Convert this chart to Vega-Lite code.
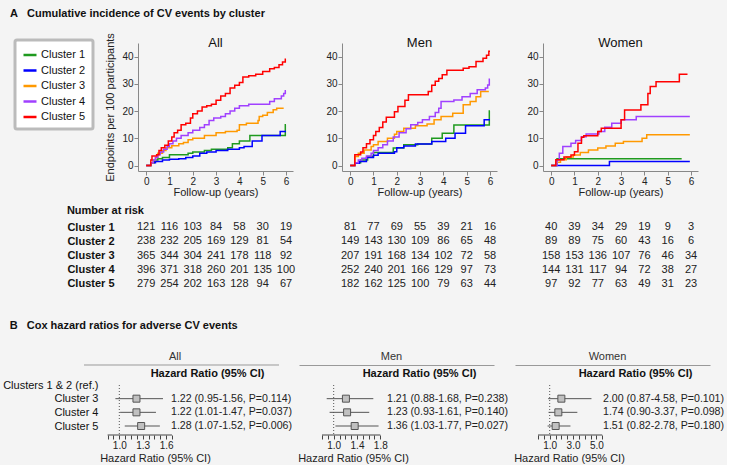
{
"$schema": "https://vega.github.io/schema/vega-lite/v6.json",
"background": "#f4f4f4",
"padding": {"left": 2, "top": 7, "right": 2, "bottom": 2},
"config": {
  "font": "Liberation Sans",
  "view": {"stroke": null},
  "axis": {"grid": false, "domainColor": "#888", "tickColor": "#888", "tickSize": 4, "labelFontSize": 10, "labelColor": "#222", "titleFontSize": 11, "titleFontWeight": "normal", "titleColor": "#222", "labelPadding": 1},
  "title": {"color": "#111"}
},
"datasets": {
"km": [
{"p":"All","c":"Cluster 1","t":0,"v":0},{"p":"All","c":"Cluster 1","t":0.2,"v":1},{"p":"All","c":"Cluster 1","t":0.35,"v":2},{"p":"All","c":"Cluster 1","t":0.5,"v":2.5},{"p":"All","c":"Cluster 1","t":0.7,"v":3},{"p":"All","c":"Cluster 1","t":1,"v":4},{"p":"All","c":"Cluster 1","t":1.8,"v":4.5},{"p":"All","c":"Cluster 1","t":2,"v":5},{"p":"All","c":"Cluster 1","t":2.5,"v":5.5},{"p":"All","c":"Cluster 1","t":2.8,"v":6},{"p":"All","c":"Cluster 1","t":3.5,"v":6.5},{"p":"All","c":"Cluster 1","t":3.7,"v":8},{"p":"All","c":"Cluster 1","t":4,"v":9},{"p":"All","c":"Cluster 1","t":4.45,"v":11},{"p":"All","c":"Cluster 1","t":5.97,"v":15},{"p":"All","c":"Cluster 1","t":6,"v":15},
{"p":"All","c":"Cluster 2","t":0,"v":0},{"p":"All","c":"Cluster 2","t":0.2,"v":1},{"p":"All","c":"Cluster 2","t":0.4,"v":1.5},{"p":"All","c":"Cluster 2","t":0.7,"v":2},{"p":"All","c":"Cluster 2","t":1,"v":2.3},{"p":"All","c":"Cluster 2","t":1.4,"v":2.5},{"p":"All","c":"Cluster 2","t":1.7,"v":3},{"p":"All","c":"Cluster 2","t":2,"v":3.5},{"p":"All","c":"Cluster 2","t":2.3,"v":4.5},{"p":"All","c":"Cluster 2","t":2.6,"v":5},{"p":"All","c":"Cluster 2","t":3,"v":5.5},{"p":"All","c":"Cluster 2","t":3.5,"v":6},{"p":"All","c":"Cluster 2","t":4,"v":6.5},{"p":"All","c":"Cluster 2","t":4.2,"v":7},{"p":"All","c":"Cluster 2","t":4.55,"v":9},{"p":"All","c":"Cluster 2","t":4.97,"v":11},{"p":"All","c":"Cluster 2","t":5.75,"v":12.5},{"p":"All","c":"Cluster 2","t":6,"v":12.5},
{"p":"All","c":"Cluster 3","t":0,"v":0},{"p":"All","c":"Cluster 3","t":0.2,"v":1},{"p":"All","c":"Cluster 3","t":0.3,"v":2},{"p":"All","c":"Cluster 3","t":0.4,"v":3},{"p":"All","c":"Cluster 3","t":0.5,"v":4.5},{"p":"All","c":"Cluster 3","t":0.7,"v":5.5},{"p":"All","c":"Cluster 3","t":0.85,"v":6.5},{"p":"All","c":"Cluster 3","t":1.1,"v":7.3},{"p":"All","c":"Cluster 3","t":1.4,"v":8},{"p":"All","c":"Cluster 3","t":1.6,"v":8.5},{"p":"All","c":"Cluster 3","t":1.8,"v":9.5},{"p":"All","c":"Cluster 3","t":2,"v":10},{"p":"All","c":"Cluster 3","t":2.5,"v":11},{"p":"All","c":"Cluster 3","t":3,"v":12},{"p":"All","c":"Cluster 3","t":3.4,"v":12.5},{"p":"All","c":"Cluster 3","t":3.9,"v":13},{"p":"All","c":"Cluster 3","t":4,"v":15},{"p":"All","c":"Cluster 3","t":4.3,"v":15.5},{"p":"All","c":"Cluster 3","t":4.8,"v":16.5},{"p":"All","c":"Cluster 3","t":4.85,"v":18},{"p":"All","c":"Cluster 3","t":5,"v":18.5},{"p":"All","c":"Cluster 3","t":5.2,"v":19.5},{"p":"All","c":"Cluster 3","t":5.45,"v":20.5},{"p":"All","c":"Cluster 3","t":5.6,"v":21},{"p":"All","c":"Cluster 3","t":5.9,"v":21},
{"p":"All","c":"Cluster 4","t":0,"v":0},{"p":"All","c":"Cluster 4","t":0.2,"v":1},{"p":"All","c":"Cluster 4","t":0.3,"v":2},{"p":"All","c":"Cluster 4","t":0.4,"v":3},{"p":"All","c":"Cluster 4","t":0.5,"v":4},{"p":"All","c":"Cluster 4","t":0.6,"v":5},{"p":"All","c":"Cluster 4","t":0.75,"v":6},{"p":"All","c":"Cluster 4","t":0.9,"v":7},{"p":"All","c":"Cluster 4","t":1,"v":8},{"p":"All","c":"Cluster 4","t":1.15,"v":9},{"p":"All","c":"Cluster 4","t":1.3,"v":10},{"p":"All","c":"Cluster 4","t":1.5,"v":11},{"p":"All","c":"Cluster 4","t":1.8,"v":12},{"p":"All","c":"Cluster 4","t":2,"v":13},{"p":"All","c":"Cluster 4","t":2.3,"v":14},{"p":"All","c":"Cluster 4","t":2.5,"v":15},{"p":"All","c":"Cluster 4","t":2.7,"v":16.5},{"p":"All","c":"Cluster 4","t":2.9,"v":17.5},{"p":"All","c":"Cluster 4","t":3.2,"v":18},{"p":"All","c":"Cluster 4","t":3.4,"v":19},{"p":"All","c":"Cluster 4","t":3.6,"v":20},{"p":"All","c":"Cluster 4","t":3.8,"v":21},{"p":"All","c":"Cluster 4","t":4,"v":22},{"p":"All","c":"Cluster 4","t":4.4,"v":22.5},{"p":"All","c":"Cluster 4","t":5.3,"v":23.5},{"p":"All","c":"Cluster 4","t":5.5,"v":24.5},{"p":"All","c":"Cluster 4","t":5.8,"v":25.5},{"p":"All","c":"Cluster 4","t":5.9,"v":26.5},{"p":"All","c":"Cluster 4","t":5.97,"v":27.5},{"p":"All","c":"Cluster 4","t":6,"v":27.5},
{"p":"All","c":"Cluster 5","t":0,"v":0},{"p":"All","c":"Cluster 5","t":0.2,"v":2},{"p":"All","c":"Cluster 5","t":0.25,"v":3.5},{"p":"All","c":"Cluster 5","t":0.45,"v":4},{"p":"All","c":"Cluster 5","t":0.55,"v":5.5},{"p":"All","c":"Cluster 5","t":0.65,"v":6.5},{"p":"All","c":"Cluster 5","t":0.8,"v":7.5},{"p":"All","c":"Cluster 5","t":0.95,"v":9},{"p":"All","c":"Cluster 5","t":1.1,"v":10.5},{"p":"All","c":"Cluster 5","t":1.2,"v":12},{"p":"All","c":"Cluster 5","t":1.35,"v":13},{"p":"All","c":"Cluster 5","t":1.5,"v":15},{"p":"All","c":"Cluster 5","t":1.7,"v":15.5},{"p":"All","c":"Cluster 5","t":1.9,"v":17.5},{"p":"All","c":"Cluster 5","t":2,"v":19},{"p":"All","c":"Cluster 5","t":2.2,"v":20},{"p":"All","c":"Cluster 5","t":2.4,"v":21.5},{"p":"All","c":"Cluster 5","t":2.6,"v":22},{"p":"All","c":"Cluster 5","t":2.8,"v":22.5},{"p":"All","c":"Cluster 5","t":3,"v":24},{"p":"All","c":"Cluster 5","t":3.2,"v":25.5},{"p":"All","c":"Cluster 5","t":3.4,"v":26.5},{"p":"All","c":"Cluster 5","t":3.6,"v":28.5},{"p":"All","c":"Cluster 5","t":3.8,"v":29.5},{"p":"All","c":"Cluster 5","t":4,"v":30.5},{"p":"All","c":"Cluster 5","t":4.15,"v":32.5},{"p":"All","c":"Cluster 5","t":4.4,"v":33},{"p":"All","c":"Cluster 5","t":4.7,"v":33.5},{"p":"All","c":"Cluster 5","t":5,"v":34.5},{"p":"All","c":"Cluster 5","t":5.3,"v":35.5},{"p":"All","c":"Cluster 5","t":5.5,"v":36},{"p":"All","c":"Cluster 5","t":5.7,"v":37},{"p":"All","c":"Cluster 5","t":5.85,"v":38},{"p":"All","c":"Cluster 5","t":5.97,"v":39},{"p":"All","c":"Cluster 5","t":6,"v":39},
{"p":"Men","c":"Cluster 1","t":0,"v":0},{"p":"Men","c":"Cluster 1","t":0.2,"v":1},{"p":"Men","c":"Cluster 1","t":0.45,"v":2},{"p":"Men","c":"Cluster 1","t":0.75,"v":3.3},{"p":"Men","c":"Cluster 1","t":1,"v":4.8},{"p":"Men","c":"Cluster 1","t":1.85,"v":6.4},{"p":"Men","c":"Cluster 1","t":2.3,"v":7.6},{"p":"Men","c":"Cluster 1","t":2.9,"v":7.9},{"p":"Men","c":"Cluster 1","t":3.5,"v":10},{"p":"Men","c":"Cluster 1","t":3.95,"v":11.9},{"p":"Men","c":"Cluster 1","t":4.45,"v":14.9},{"p":"Men","c":"Cluster 1","t":5.97,"v":20},{"p":"Men","c":"Cluster 1","t":6,"v":20},
{"p":"Men","c":"Cluster 2","t":0,"v":0},{"p":"Men","c":"Cluster 2","t":0.2,"v":0.8},{"p":"Men","c":"Cluster 2","t":0.4,"v":1.5},{"p":"Men","c":"Cluster 2","t":0.7,"v":3},{"p":"Men","c":"Cluster 2","t":1,"v":3.8},{"p":"Men","c":"Cluster 2","t":1.2,"v":4.5},{"p":"Men","c":"Cluster 2","t":1.9,"v":5.1},{"p":"Men","c":"Cluster 2","t":2,"v":6.5},{"p":"Men","c":"Cluster 2","t":2.3,"v":7.2},{"p":"Men","c":"Cluster 2","t":2.8,"v":7.9},{"p":"Men","c":"Cluster 2","t":3.5,"v":8.8},{"p":"Men","c":"Cluster 2","t":4.1,"v":10},{"p":"Men","c":"Cluster 2","t":4.5,"v":11.9},{"p":"Men","c":"Cluster 2","t":4.95,"v":14.6},{"p":"Men","c":"Cluster 2","t":5.75,"v":16.8},{"p":"Men","c":"Cluster 2","t":6,"v":16.8},
{"p":"Men","c":"Cluster 3","t":0,"v":0},{"p":"Men","c":"Cluster 3","t":0.2,"v":3.3},{"p":"Men","c":"Cluster 3","t":0.35,"v":4.5},{"p":"Men","c":"Cluster 3","t":0.6,"v":5.7},{"p":"Men","c":"Cluster 3","t":0.9,"v":7},{"p":"Men","c":"Cluster 3","t":1,"v":7.6},{"p":"Men","c":"Cluster 3","t":1.2,"v":8.8},{"p":"Men","c":"Cluster 3","t":1.6,"v":10},{"p":"Men","c":"Cluster 3","t":1.9,"v":11.5},{"p":"Men","c":"Cluster 3","t":2,"v":12.5},{"p":"Men","c":"Cluster 3","t":2.3,"v":13.7},{"p":"Men","c":"Cluster 3","t":2.8,"v":14.6},{"p":"Men","c":"Cluster 3","t":3.3,"v":15.3},{"p":"Men","c":"Cluster 3","t":3.6,"v":16.8},{"p":"Men","c":"Cluster 3","t":3.9,"v":18},{"p":"Men","c":"Cluster 3","t":4.4,"v":19.2},{"p":"Men","c":"Cluster 3","t":4.85,"v":22.3},{"p":"Men","c":"Cluster 3","t":5.15,"v":23.5},{"p":"Men","c":"Cluster 3","t":5.4,"v":25.3},{"p":"Men","c":"Cluster 3","t":5.6,"v":27.2},{"p":"Men","c":"Cluster 3","t":5.95,"v":27.2},
{"p":"Men","c":"Cluster 4","t":0,"v":0},{"p":"Men","c":"Cluster 4","t":0.2,"v":1},{"p":"Men","c":"Cluster 4","t":0.35,"v":2},{"p":"Men","c":"Cluster 4","t":0.5,"v":2.7},{"p":"Men","c":"Cluster 4","t":0.7,"v":3.5},{"p":"Men","c":"Cluster 4","t":0.9,"v":4.5},{"p":"Men","c":"Cluster 4","t":1,"v":5.5},{"p":"Men","c":"Cluster 4","t":1.2,"v":6.5},{"p":"Men","c":"Cluster 4","t":1.4,"v":7.6},{"p":"Men","c":"Cluster 4","t":1.6,"v":9},{"p":"Men","c":"Cluster 4","t":1.85,"v":10.5},{"p":"Men","c":"Cluster 4","t":2.1,"v":12},{"p":"Men","c":"Cluster 4","t":2.4,"v":13.5},{"p":"Men","c":"Cluster 4","t":2.6,"v":15},{"p":"Men","c":"Cluster 4","t":2.9,"v":15.8},{"p":"Men","c":"Cluster 4","t":3.1,"v":16.8},{"p":"Men","c":"Cluster 4","t":3.4,"v":18},{"p":"Men","c":"Cluster 4","t":3.65,"v":19.5},{"p":"Men","c":"Cluster 4","t":3.8,"v":21},{"p":"Men","c":"Cluster 4","t":3.9,"v":23.5},{"p":"Men","c":"Cluster 4","t":4.45,"v":24.1},{"p":"Men","c":"Cluster 4","t":4.8,"v":25.3},{"p":"Men","c":"Cluster 4","t":5.15,"v":26.5},{"p":"Men","c":"Cluster 4","t":5.45,"v":27.8},{"p":"Men","c":"Cluster 4","t":5.8,"v":28.5},{"p":"Men","c":"Cluster 4","t":5.9,"v":29.6},{"p":"Men","c":"Cluster 4","t":5.97,"v":31.7},{"p":"Men","c":"Cluster 4","t":6,"v":31.7},
{"p":"Men","c":"Cluster 5","t":0,"v":0},{"p":"Men","c":"Cluster 5","t":0.2,"v":4},{"p":"Men","c":"Cluster 5","t":0.45,"v":5},{"p":"Men","c":"Cluster 5","t":0.55,"v":6.5},{"p":"Men","c":"Cluster 5","t":0.7,"v":8},{"p":"Men","c":"Cluster 5","t":0.85,"v":9.5},{"p":"Men","c":"Cluster 5","t":1,"v":11},{"p":"Men","c":"Cluster 5","t":1.1,"v":12.5},{"p":"Men","c":"Cluster 5","t":1.25,"v":14},{"p":"Men","c":"Cluster 5","t":1.4,"v":16},{"p":"Men","c":"Cluster 5","t":1.55,"v":17.7},{"p":"Men","c":"Cluster 5","t":1.9,"v":19.8},{"p":"Men","c":"Cluster 5","t":2.05,"v":21.7},{"p":"Men","c":"Cluster 5","t":2.35,"v":24},{"p":"Men","c":"Cluster 5","t":2.5,"v":26},{"p":"Men","c":"Cluster 5","t":3.35,"v":27.2},{"p":"Men","c":"Cluster 5","t":3.5,"v":29.5},{"p":"Men","c":"Cluster 5","t":3.65,"v":31},{"p":"Men","c":"Cluster 5","t":3.8,"v":32},{"p":"Men","c":"Cluster 5","t":3.95,"v":33.3},{"p":"Men","c":"Cluster 5","t":4.15,"v":35},{"p":"Men","c":"Cluster 5","t":4.85,"v":35.7},{"p":"Men","c":"Cluster 5","t":5.1,"v":36.3},{"p":"Men","c":"Cluster 5","t":5.4,"v":38.2},{"p":"Men","c":"Cluster 5","t":5.7,"v":39.4},{"p":"Men","c":"Cluster 5","t":5.85,"v":40.5},{"p":"Men","c":"Cluster 5","t":5.95,"v":42},{"p":"Men","c":"Cluster 5","t":6,"v":42},
{"p":"Women","c":"Cluster 1","t":0,"v":0},{"p":"Women","c":"Cluster 1","t":0.25,"v":2.5},{"p":"Women","c":"Cluster 1","t":5.6,"v":2.5},
{"p":"Women","c":"Cluster 2","t":0,"v":0},{"p":"Women","c":"Cluster 2","t":2.5,"v":1.5},{"p":"Women","c":"Cluster 2","t":5.95,"v":1.5},
{"p":"Women","c":"Cluster 3","t":0,"v":0},{"p":"Women","c":"Cluster 3","t":0.2,"v":1.2},{"p":"Women","c":"Cluster 3","t":0.4,"v":2.1},{"p":"Women","c":"Cluster 3","t":0.65,"v":3.1},{"p":"Women","c":"Cluster 3","t":0.95,"v":3.9},{"p":"Women","c":"Cluster 3","t":1.25,"v":4.8},{"p":"Women","c":"Cluster 3","t":1.6,"v":5.7},{"p":"Women","c":"Cluster 3","t":2,"v":6.4},{"p":"Women","c":"Cluster 3","t":2.35,"v":7.2},{"p":"Women","c":"Cluster 3","t":2.75,"v":8.2},{"p":"Women","c":"Cluster 3","t":3.1,"v":8.8},{"p":"Women","c":"Cluster 3","t":3.9,"v":10},{"p":"Women","c":"Cluster 3","t":4.1,"v":11.3},{"p":"Women","c":"Cluster 3","t":5.95,"v":11.3},
{"p":"Women","c":"Cluster 4","t":0,"v":0},{"p":"Women","c":"Cluster 4","t":0.25,"v":2},{"p":"Women","c":"Cluster 4","t":0.35,"v":4.5},{"p":"Women","c":"Cluster 4","t":0.5,"v":7},{"p":"Women","c":"Cluster 4","t":0.85,"v":8.2},{"p":"Women","c":"Cluster 4","t":1.05,"v":9.2},{"p":"Women","c":"Cluster 4","t":1.3,"v":10.6},{"p":"Women","c":"Cluster 4","t":1.5,"v":11.6},{"p":"Women","c":"Cluster 4","t":2.05,"v":12.5},{"p":"Women","c":"Cluster 4","t":2.3,"v":14.1},{"p":"Women","c":"Cluster 4","t":2.6,"v":15.5},{"p":"Women","c":"Cluster 4","t":3,"v":16.8},{"p":"Women","c":"Cluster 4","t":3.65,"v":18},{"p":"Women","c":"Cluster 4","t":5.95,"v":18},
{"p":"Women","c":"Cluster 5","t":0,"v":0},{"p":"Women","c":"Cluster 5","t":0.2,"v":2.1},{"p":"Women","c":"Cluster 5","t":0.55,"v":3.1},{"p":"Women","c":"Cluster 5","t":0.85,"v":3.9},{"p":"Women","c":"Cluster 5","t":1,"v":5.1},{"p":"Women","c":"Cluster 5","t":1.15,"v":8.2},{"p":"Women","c":"Cluster 5","t":1.3,"v":10.4},{"p":"Women","c":"Cluster 5","t":1.4,"v":10.9},{"p":"Women","c":"Cluster 5","t":2,"v":12.5},{"p":"Women","c":"Cluster 5","t":2.15,"v":13.7},{"p":"Women","c":"Cluster 5","t":3,"v":16.8},{"p":"Women","c":"Cluster 5","t":3.15,"v":20.4},{"p":"Women","c":"Cluster 5","t":3.85,"v":22.3},{"p":"Women","c":"Cluster 5","t":4.15,"v":26.5},{"p":"Women","c":"Cluster 5","t":4.25,"v":29},{"p":"Women","c":"Cluster 5","t":4.5,"v":30.8},{"p":"Women","c":"Cluster 5","t":5.5,"v":33.5},{"p":"Women","c":"Cluster 5","t":5.85,"v":33.5}
],
"risk": [
{"p":"All","c":"Cluster 1","t":0,"n":121},{"p":"All","c":"Cluster 1","t":1,"n":116},{"p":"All","c":"Cluster 1","t":2,"n":103},{"p":"All","c":"Cluster 1","t":3,"n":84},{"p":"All","c":"Cluster 1","t":4,"n":58},{"p":"All","c":"Cluster 1","t":5,"n":30},{"p":"All","c":"Cluster 1","t":6,"n":19},
{"p":"All","c":"Cluster 2","t":0,"n":238},{"p":"All","c":"Cluster 2","t":1,"n":232},{"p":"All","c":"Cluster 2","t":2,"n":205},{"p":"All","c":"Cluster 2","t":3,"n":169},{"p":"All","c":"Cluster 2","t":4,"n":129},{"p":"All","c":"Cluster 2","t":5,"n":81},{"p":"All","c":"Cluster 2","t":6,"n":54},
{"p":"All","c":"Cluster 3","t":0,"n":365},{"p":"All","c":"Cluster 3","t":1,"n":344},{"p":"All","c":"Cluster 3","t":2,"n":304},{"p":"All","c":"Cluster 3","t":3,"n":241},{"p":"All","c":"Cluster 3","t":4,"n":178},{"p":"All","c":"Cluster 3","t":5,"n":118},{"p":"All","c":"Cluster 3","t":6,"n":92},
{"p":"All","c":"Cluster 4","t":0,"n":396},{"p":"All","c":"Cluster 4","t":1,"n":371},{"p":"All","c":"Cluster 4","t":2,"n":318},{"p":"All","c":"Cluster 4","t":3,"n":260},{"p":"All","c":"Cluster 4","t":4,"n":201},{"p":"All","c":"Cluster 4","t":5,"n":135},{"p":"All","c":"Cluster 4","t":6,"n":100},
{"p":"All","c":"Cluster 5","t":0,"n":279},{"p":"All","c":"Cluster 5","t":1,"n":254},{"p":"All","c":"Cluster 5","t":2,"n":202},{"p":"All","c":"Cluster 5","t":3,"n":163},{"p":"All","c":"Cluster 5","t":4,"n":128},{"p":"All","c":"Cluster 5","t":5,"n":94},{"p":"All","c":"Cluster 5","t":6,"n":67},
{"p":"Men","c":"Cluster 1","t":0,"n":81},{"p":"Men","c":"Cluster 1","t":1,"n":77},{"p":"Men","c":"Cluster 1","t":2,"n":69},{"p":"Men","c":"Cluster 1","t":3,"n":55},{"p":"Men","c":"Cluster 1","t":4,"n":39},{"p":"Men","c":"Cluster 1","t":5,"n":21},{"p":"Men","c":"Cluster 1","t":6,"n":16},
{"p":"Men","c":"Cluster 2","t":0,"n":149},{"p":"Men","c":"Cluster 2","t":1,"n":143},{"p":"Men","c":"Cluster 2","t":2,"n":130},{"p":"Men","c":"Cluster 2","t":3,"n":109},{"p":"Men","c":"Cluster 2","t":4,"n":86},{"p":"Men","c":"Cluster 2","t":5,"n":65},{"p":"Men","c":"Cluster 2","t":6,"n":48},
{"p":"Men","c":"Cluster 3","t":0,"n":207},{"p":"Men","c":"Cluster 3","t":1,"n":191},{"p":"Men","c":"Cluster 3","t":2,"n":168},{"p":"Men","c":"Cluster 3","t":3,"n":134},{"p":"Men","c":"Cluster 3","t":4,"n":102},{"p":"Men","c":"Cluster 3","t":5,"n":72},{"p":"Men","c":"Cluster 3","t":6,"n":58},
{"p":"Men","c":"Cluster 4","t":0,"n":252},{"p":"Men","c":"Cluster 4","t":1,"n":240},{"p":"Men","c":"Cluster 4","t":2,"n":201},{"p":"Men","c":"Cluster 4","t":3,"n":166},{"p":"Men","c":"Cluster 4","t":4,"n":129},{"p":"Men","c":"Cluster 4","t":5,"n":97},{"p":"Men","c":"Cluster 4","t":6,"n":73},
{"p":"Men","c":"Cluster 5","t":0,"n":182},{"p":"Men","c":"Cluster 5","t":1,"n":162},{"p":"Men","c":"Cluster 5","t":2,"n":125},{"p":"Men","c":"Cluster 5","t":3,"n":100},{"p":"Men","c":"Cluster 5","t":4,"n":79},{"p":"Men","c":"Cluster 5","t":5,"n":63},{"p":"Men","c":"Cluster 5","t":6,"n":44},
{"p":"Women","c":"Cluster 1","t":0,"n":40},{"p":"Women","c":"Cluster 1","t":1,"n":39},{"p":"Women","c":"Cluster 1","t":2,"n":34},{"p":"Women","c":"Cluster 1","t":3,"n":29},{"p":"Women","c":"Cluster 1","t":4,"n":19},{"p":"Women","c":"Cluster 1","t":5,"n":9},{"p":"Women","c":"Cluster 1","t":6,"n":3},
{"p":"Women","c":"Cluster 2","t":0,"n":89},{"p":"Women","c":"Cluster 2","t":1,"n":89},{"p":"Women","c":"Cluster 2","t":2,"n":75},{"p":"Women","c":"Cluster 2","t":3,"n":60},{"p":"Women","c":"Cluster 2","t":4,"n":43},{"p":"Women","c":"Cluster 2","t":5,"n":16},{"p":"Women","c":"Cluster 2","t":6,"n":6},
{"p":"Women","c":"Cluster 3","t":0,"n":158},{"p":"Women","c":"Cluster 3","t":1,"n":153},{"p":"Women","c":"Cluster 3","t":2,"n":136},{"p":"Women","c":"Cluster 3","t":3,"n":107},{"p":"Women","c":"Cluster 3","t":4,"n":76},{"p":"Women","c":"Cluster 3","t":5,"n":46},{"p":"Women","c":"Cluster 3","t":6,"n":34},
{"p":"Women","c":"Cluster 4","t":0,"n":144},{"p":"Women","c":"Cluster 4","t":1,"n":131},{"p":"Women","c":"Cluster 4","t":2,"n":117},{"p":"Women","c":"Cluster 4","t":3,"n":94},{"p":"Women","c":"Cluster 4","t":4,"n":72},{"p":"Women","c":"Cluster 4","t":5,"n":38},{"p":"Women","c":"Cluster 4","t":6,"n":27},
{"p":"Women","c":"Cluster 5","t":0,"n":97},{"p":"Women","c":"Cluster 5","t":1,"n":92},{"p":"Women","c":"Cluster 5","t":2,"n":77},{"p":"Women","c":"Cluster 5","t":3,"n":63},{"p":"Women","c":"Cluster 5","t":4,"n":49},{"p":"Women","c":"Cluster 5","t":5,"n":31},{"p":"Women","c":"Cluster 5","t":6,"n":23}
],
"hr": [
{"p":"All","c":"Clusters 1 & 2 (ref.)"},
{"p":"All","c":"Cluster 3","hr":1.22,"lo":0.95,"hi":1.56,"txt":"1.22 (0.95-1.56, P=0.114)"},
{"p":"All","c":"Cluster 4","hr":1.22,"lo":1.01,"hi":1.47,"txt":"1.22 (1.01-1.47, P=0.037)"},
{"p":"All","c":"Cluster 5","hr":1.28,"lo":1.07,"hi":1.52,"txt":"1.28 (1.07-1.52, P=0.006)"},
{"p":"Men","c":"Clusters 1 & 2 (ref.)"},
{"p":"Men","c":"Cluster 3","hr":1.21,"lo":0.88,"hi":1.68,"txt":"1.21 (0.88-1.68, P=0.238)"},
{"p":"Men","c":"Cluster 4","hr":1.23,"lo":0.93,"hi":1.61,"txt":"1.23 (0.93-1.61, P=0.140)"},
{"p":"Men","c":"Cluster 5","hr":1.36,"lo":1.03,"hi":1.77,"txt":"1.36 (1.03-1.77, P=0.027)"},
{"p":"Women","c":"Clusters 1 & 2 (ref.)"},
{"p":"Women","c":"Cluster 3","hr":2.0,"lo":0.87,"hi":4.58,"txt":"2.00 (0.87-4.58, P=0.101)"},
{"p":"Women","c":"Cluster 4","hr":1.74,"lo":0.90,"hi":3.37,"txt":"1.74 (0.90-3.37, P=0.098)"},
{"p":"Women","c":"Cluster 5","hr":1.51,"lo":0.82,"hi":2.78,"txt":"1.51 (0.82-2.78, P=0.180)"}
]
},
"spacing": 28,
"vconcat": [
{
  "title": {"text": "A\u00a0\u00a0 Cumulative incidence of CV events by cluster", "anchor": "start", "fontSize": 11, "fontWeight": "bold", "offset": 14, "dx": -3.5},
  "columns": 3,
  "align": "each",
  "spacing": {"row": 8, "column": 29},
  "resolve": {"legend": {"color": "independent"}},
  "concat": [
    {
      "width": 155, "height": 128,
      "data": {"name": "km"},
      "transform": [{"filter": "datum.p === 'All'"}],
      "title": {"text": "All", "fontSize": 13, "fontWeight": "normal", "offset": -17},
      "mark": {"type": "line", "interpolate": "step-after", "strokeWidth": 1.5},
      "encoding": {
        "x": {"field": "t", "type": "quantitative", "scale": {"domain": [-0.35, 6.3], "nice": false, "zero": false}, "axis": {"values": [0,1,2,3,4,5,6], "title": "Follow-up (years)", "titlePadding": 0}},
        "y": {"field": "v", "type": "quantitative", "scale": {"domain": [-2, 45], "nice": false, "zero": false}, "axis": {"values": [0,10,20,30,40], "title": "Endpoints per 100 participants", "titlePadding": 6}},
        "color": {"field": "c", "type": "nominal", "scale": {"domain": ["Cluster 1","Cluster 2","Cluster 3","Cluster 4","Cluster 5"], "range": ["#1f9a1f","#0000ff","#ff9900","#a040ff","#ff0000"]},
          "legend": {"orient": "none", "legendX": -123, "legendY": -3, "title": null, "symbolType": "stroke", "symbolStrokeWidth": 2.5, "symbolSize": 169, "labelFontSize": 11, "labelColor": "#111", "rowPadding": 2.5, "padding": 7, "labelOffset": 3, "fillColor": "white", "strokeColor": "#bbb", "cornerRadius": 2, "encode": {"legend": {"update": {"strokeWidth": {"value": 3}}}}}}
      }
    },
    {
      "width": 155, "height": 128,
      "data": {"name": "km"},
      "transform": [{"filter": "datum.p === 'Men'"}],
      "title": {"text": "Men", "fontSize": 13, "fontWeight": "normal", "offset": -7},
      "mark": {"type": "line", "interpolate": "step-after", "strokeWidth": 1.5},
      "encoding": {
        "x": {"field": "t", "type": "quantitative", "scale": {"domain": [-0.35, 6.3], "nice": false, "zero": false}, "axis": {"values": [0,1,2,3,4,5,6], "title": "Follow-up (years)", "titlePadding": 0}},
        "y": {"field": "v", "type": "quantitative", "scale": {"domain": [-2, 45], "nice": false, "zero": false}, "axis": {"values": [0,10,20,30,40], "title": null}},
        "color": {"field": "c", "type": "nominal", "scale": {"domain": ["Cluster 1","Cluster 2","Cluster 3","Cluster 4","Cluster 5"], "range": ["#1f9a1f","#0000ff","#ff9900","#a040ff","#ff0000"]}, "legend": null}
      }
    },
    {
      "width": 155, "height": 128,
      "data": {"name": "km"},
      "transform": [{"filter": "datum.p === 'Women'"}],
      "title": {"text": "Women", "fontSize": 13, "fontWeight": "normal", "offset": -7},
      "mark": {"type": "line", "interpolate": "step-after", "strokeWidth": 1.5},
      "encoding": {
        "x": {"field": "t", "type": "quantitative", "scale": {"domain": [-0.35, 6.3], "nice": false, "zero": false}, "axis": {"values": [0,1,2,3,4,5,6], "title": "Follow-up (years)", "titlePadding": 0}},
        "y": {"field": "v", "type": "quantitative", "scale": {"domain": [-2, 45], "nice": false, "zero": false}, "axis": {"values": [0,10,20,30,40], "title": null}},
        "color": {"field": "c", "type": "nominal", "scale": {"domain": ["Cluster 1","Cluster 2","Cluster 3","Cluster 4","Cluster 5"], "range": ["#1f9a1f","#0000ff","#ff9900","#a040ff","#ff0000"]}, "legend": null}
      }
    },
    {
      "width": 155, "height": 71,
      "data": {"name": "risk"},
      "transform": [{"filter": "datum.p === 'All'"}],
      "title": {"text": "Number at risk", "anchor": "start", "frame": "bounds", "fontSize": 11, "fontWeight": "bold", "offset": 4},
      "mark": {"type": "text", "fontSize": 11, "color": "#222"},
      "encoding": {
        "x": {"field": "t", "type": "quantitative", "scale": {"domain": [-0.35, 6.3], "nice": false, "zero": false}, "axis": null},
        "y": {"field": "c", "type": "nominal", "axis": {"title": null, "domain": false, "ticks": false, "tickSize": 0, "labelPadding": 24, "labelFontSize": 11, "labelFontWeight": "bold", "labelColor": "#111"}},
        "text": {"field": "n", "type": "quantitative"}
      }
    },
    {
      "width": 155, "height": 71,
      "data": {"name": "risk"},
      "transform": [{"filter": "datum.p === 'Men'"}],
      "mark": {"type": "text", "fontSize": 11, "color": "#222"},
      "encoding": {
        "x": {"field": "t", "type": "quantitative", "scale": {"domain": [-0.35, 6.3], "nice": false, "zero": false}, "axis": null},
        "y": {"field": "c", "type": "nominal", "axis": null},
        "text": {"field": "n", "type": "quantitative"}
      }
    },
    {
      "width": 155, "height": 71,
      "data": {"name": "risk"},
      "transform": [{"filter": "datum.p === 'Women'"}],
      "mark": {"type": "text", "fontSize": 11, "color": "#222"},
      "encoding": {
        "x": {"field": "t", "type": "quantitative", "scale": {"domain": [-0.35, 6.3], "nice": false, "zero": false}, "axis": null},
        "y": {"field": "c", "type": "nominal", "axis": null},
        "text": {"field": "n", "type": "quantitative"}
      }
    }
  ]
},
{
  "title": {"text": "B\u00a0\u00a0 Cox hazard ratios for adverse CV events", "anchor": "start", "fontSize": 11, "fontWeight": "bold", "offset": 20, "dx": 7},
  "spacing": 4,
  "hconcat": [
    {
      "width": 141, "height": 70,
      "data": {"name": "hr"},
      "transform": [{"filter": "datum.p === 'All'"}],
      "title": {"text": "All", "fontSize": 11, "fontWeight": "normal", "color": "#333", "offset": 3, "dx": -33.5},
      "encoding": {"y": {"field": "c", "type": "nominal", "scale": {"type": "point", "padding": 0, "domain": ["Clusters 1 & 2 (ref.)","Cluster 3","Cluster 4","Cluster 5"], "range": [20, 61]}, "axis": {"title": null, "domain": false, "ticks": false, "tickSize": 0, "labelPadding": 40, "labelFontSize": 11, "labelColor": "#111"}}},
      "layer": [
        {"transform": [{"filter": "!isValid(datum.hr)"}], "mark": {"type": "rule", "color": "#555", "strokeDash": [1, 2]},
         "encoding": {"x": {"datum": 1, "type": "quantitative", "scale": {"domain": [0.5474, 2.355], "range": [-54, 87], "nice": false, "zero": false}, "axis": null}, "y2": {"value": "height"}}},
        {"transform": [{"filter": "!isValid(datum.hr)"}], "mark": {"type": "rule", "color": "#999"},
         "encoding": {"x": {"datum": 0.5474, "type": "quantitative", "axis": null}, "x2": {"datum": 3.0474}, "y": {"value": 0}}},
        {"transform": [{"filter": "!isValid(datum.hr)"}], "mark": {"type": "rule", "color": "#444"},
         "encoding": {"x": {"datum": 0.85, "type": "quantitative", "axis": null}, "x2": {"datum": 1.675}, "y": {"value": "height"}}},
        {"transform": [{"filter": "isValid(datum.hr)"}], "mark": {"type": "rule", "color": "#555"},
         "encoding": {"x": {"field": "lo", "type": "quantitative", "axis": {"orient": "bottom", "values": [0.85,0.925,1,1.075,1.15,1.225,1.3,1.375,1.45,1.525,1.6,1.675], "labelExpr": "(abs(datum.value-1)<0.001 || abs(datum.value-1.3)<0.001 || abs(datum.value-1.6)<0.001) ? format(datum.value, '.1f') : ''", "domain": false, "tickColor": "#444", "labelOverlap": false, "labelFlush": false, "title": "Hazard Ratio (95% CI)", "titleX": 17, "titlePadding": 2}}, "x2": {"field": "hi"}}},
        {"transform": [{"filter": "isValid(datum.hr)"}], "mark": {"type": "point", "shape": "square", "filled": true, "size": 49, "fill": "#c0c0c0", "stroke": "#555", "strokeWidth": 1, "opacity": 1},
         "encoding": {"x": {"field": "hr", "type": "quantitative", "axis": {"orient": "top", "domain": false, "ticks": false, "labels": false, "title": "Hazard Ratio (95% CI)", "titleFontWeight": "bold", "titleColor": "#111", "titleX": 69, "titleY": 8, "titleBaseline": "middle"}}}},
        {"transform": [{"filter": "isValid(datum.hr)"}], "mark": {"type": "text", "align": "left", "fontSize": 10.6, "color": "#222"},
         "encoding": {"x": {"value": 33}, "text": {"field": "txt"}}}
      ],
      "resolve": {"axis": {"x": "independent"}}
    },
    {
      "width": 195, "height": 70,
      "data": {"name": "hr"},
      "transform": [{"filter": "datum.p === 'Men'"}],
      "title": {"text": "Men", "fontSize": 11, "fontWeight": "normal", "color": "#333", "offset": 3, "dx": -5},
      "encoding": {"y": {"field": "c", "type": "nominal", "scale": {"type": "point", "padding": 0, "domain": ["Clusters 1 & 2 (ref.)","Cluster 3","Cluster 4","Cluster 5"], "range": [20, 61]}, "axis": null}},
      "layer": [
        {"transform": [{"filter": "!isValid(datum.hr)"}], "mark": {"type": "rule", "color": "#555", "strokeDash": [1, 2]},
         "encoding": {"x": {"datum": 1, "type": "quantitative", "scale": {"domain": [0.405, 3.75], "nice": false, "zero": false}, "axis": null}, "y2": {"value": "height"}}},
        {"transform": [{"filter": "!isValid(datum.hr)"}], "mark": {"type": "rule", "color": "#444"},
         "encoding": {"x": {"datum": 0.8, "type": "quantitative", "axis": null}, "x2": {"datum": 1.8}, "y": {"value": "height"}}},
        {"transform": [{"filter": "isValid(datum.hr)"}], "mark": {"type": "rule", "color": "#555"},
         "encoding": {"x": {"field": "lo", "type": "quantitative", "axis": {"orient": "bottom", "values": [0.8,0.9,1,1.1,1.2,1.3,1.4,1.5,1.6,1.7,1.8], "labelExpr": "(abs(datum.value-1)<0.001 || abs(datum.value-1.4)<0.001 || abs(datum.value-1.8)<0.001) ? format(datum.value, '.1f') : ''", "domain": false, "tickColor": "#444", "labelOverlap": false, "labelFlush": false, "title": "Hazard Ratio (95% CI)", "titleX": 54, "titlePadding": 2}}, "x2": {"field": "hi"}}},
        {"transform": [{"filter": "isValid(datum.hr)"}], "mark": {"type": "point", "shape": "square", "filled": true, "size": 49, "fill": "#c0c0c0", "stroke": "#555", "strokeWidth": 1, "opacity": 1},
         "encoding": {"x": {"field": "hr", "type": "quantitative", "axis": {"orient": "top", "domain": true, "domainColor": "#999", "ticks": false, "labels": false, "title": "Hazard Ratio (95% CI)", "titleFontWeight": "bold", "titleColor": "#111", "titleX": 120, "titleY": 8, "titleBaseline": "middle"}}}},
        {"transform": [{"filter": "isValid(datum.hr)"}], "mark": {"type": "text", "align": "left", "fontSize": 10.6, "color": "#222"},
         "encoding": {"x": {"value": 88}, "text": {"field": "txt"}}}
      ],
      "resolve": {"axis": {"x": "independent"}}
    },
    {
      "width": 195, "height": 70,
      "data": {"name": "hr"},
      "transform": [{"filter": "datum.p === 'Women'"}],
      "title": {"text": "Women", "fontSize": 11, "fontWeight": "normal", "color": "#333", "offset": 3, "dx": -5},
      "encoding": {"y": {"field": "c", "type": "nominal", "scale": {"type": "point", "padding": 0, "domain": ["Clusters 1 & 2 (ref.)","Cluster 3","Cluster 4","Cluster 5"], "range": [20, 61]}, "axis": null}},
      "layer": [
        {"transform": [{"filter": "!isValid(datum.hr)"}], "mark": {"type": "rule", "color": "#555", "strokeDash": [1, 2]},
         "encoding": {"x": {"datum": 1, "type": "quantitative", "scale": {"domain": [-1.973, 14.737], "nice": false, "zero": false}, "axis": null}, "y2": {"value": "height"}}},
        {"transform": [{"filter": "!isValid(datum.hr)"}], "mark": {"type": "rule", "color": "#444"},
         "encoding": {"x": {"datum": 0, "type": "quantitative", "axis": null}, "x2": {"datum": 5.5}, "y": {"value": "height"}}},
        {"transform": [{"filter": "isValid(datum.hr)"}], "mark": {"type": "rule", "color": "#555"},
         "encoding": {"x": {"field": "lo", "type": "quantitative", "axis": {"orient": "bottom", "values": [0,0.5,1,1.5,2,2.5,3,3.5,4,4.5,5,5.5], "labelExpr": "(datum.value === 1 || datum.value === 3 || datum.value === 5) ? format(datum.value, '.1f') : ''", "domain": false, "tickColor": "#444", "labelOverlap": false, "labelFlush": false, "title": "Hazard Ratio (95% CI)", "titleX": 54, "titlePadding": 2}}, "x2": {"field": "hi"}}},
        {"transform": [{"filter": "isValid(datum.hr)"}], "mark": {"type": "point", "shape": "square", "filled": true, "size": 49, "fill": "#c0c0c0", "stroke": "#555", "strokeWidth": 1, "opacity": 1},
         "encoding": {"x": {"field": "hr", "type": "quantitative", "axis": {"orient": "top", "domain": true, "domainColor": "#999", "ticks": false, "labels": false, "title": "Hazard Ratio (95% CI)", "titleFontWeight": "bold", "titleColor": "#111", "titleX": 120, "titleY": 8, "titleBaseline": "middle"}}}},
        {"transform": [{"filter": "isValid(datum.hr)"}], "mark": {"type": "text", "align": "left", "fontSize": 10.6, "color": "#222"},
         "encoding": {"x": {"value": 88}, "text": {"field": "txt"}}}
      ],
      "resolve": {"axis": {"x": "independent"}}
    }
  ]
}
]
}
